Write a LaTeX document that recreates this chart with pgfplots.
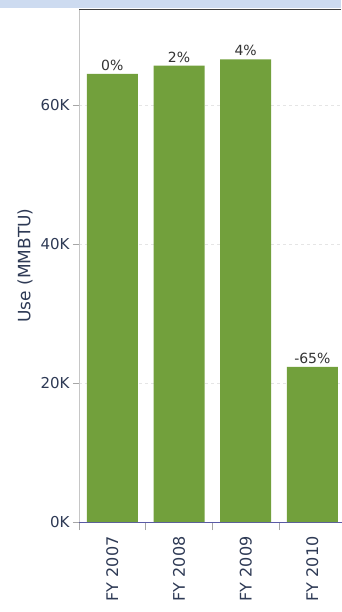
\documentclass[border=0pt]{standalone}
\usepackage{pgfplots}
\pgfplotsset{compat=1.18}
\usepackage{fontspec}
\setmainfont{DejaVu Sans}
\definecolor{bargreen}{HTML}{72A03C}
\definecolor{txt}{HTML}{2E3A55}
\definecolor{band}{HTML}{CDDBF0}
\begin{document}
\begin{tikzpicture}
\useasboundingbox (-79pt,-90pt) rectangle (262pt,522pt);
\fill[white] (-79pt,-90pt) rectangle (262pt,522pt);
\fill[band] (-79pt,514pt) rectangle (262pt,522pt);
\begin{axis}[
  at={(0pt,0pt)}, anchor=south west,
  scale only axis, width=266.7pt, height=513pt,
  xmin=-0.5, xmax=3.5, ymin=0, ymax=73800,
  ybar, bar width=51pt,
  axis x line*=bottom, axis y line*=left,
  x axis line style={draw=gray!70!blue, line width=0.8pt},
  y axis line style={draw=gray!45, line width=0.6pt},
  xtick={0,1,2,3},
  xticklabels={FY 2007,FY 2008,FY 2009,FY 2010},
  major x tick style={draw=none},
  minor xtick={-0.5,0.5,1.5,2.5},
  minor x tick style={draw=gray!70, line width=0.6pt},
  minor tick length=8pt,
  tick align=outside,
  xticklabel style={rotate=90, anchor=east, font=\fontsize{16}{18}\selectfont, text=txt},
  xticklabel shift=5pt,
  ytick={0,20000,40000,60000},
  yticklabels={0K,20K,40K,60K},
  major tick length=6pt,
  y tick style={draw=gray!70, line width=0.6pt},
  yticklabel style={font=\fontsize{15}{17}\selectfont, text=txt},
  ymajorgrids, grid style={gray!20, dashed, line width=0.5pt},
  scaled y ticks=false,
  ylabel={Use (MMBTU)},
  every axis y label/.style={at={(axis description cs:-0.2025,0.5)}, rotate=90, anchor=center, font=\fontsize{17}{19}\selectfont, text=txt},
  nodes near coords, point meta=explicit symbolic,
  nodes near coords style={font=\fontsize{14}{16}\selectfont, text=black!80, anchor=south, inner sep=3pt},
  clip=false,
]
\addplot[fill=bargreen, draw=none] coordinates {
  (0,64460) [0\%]
  (1,65650) [2\%]
  (2,66570) [4\%]
  (3,22300) [-65\%]
};
\end{axis}
\draw[black!75, line width=0.8pt] (0pt,513pt) -- (262pt,513pt);
\end{tikzpicture}
\end{document}
